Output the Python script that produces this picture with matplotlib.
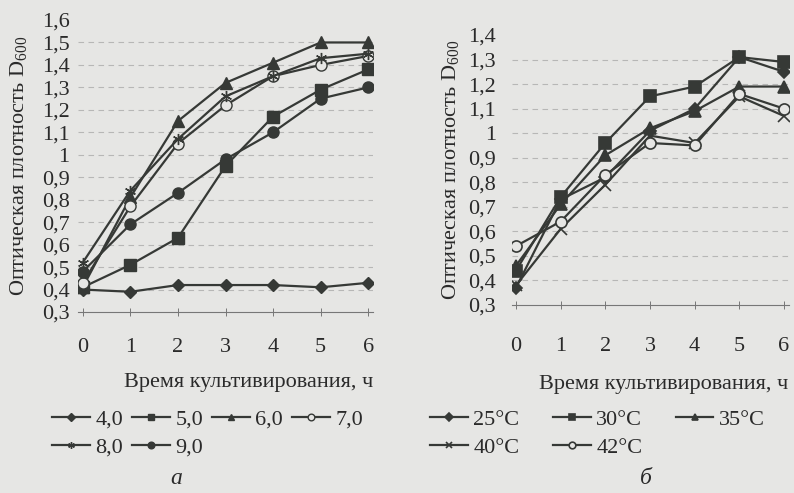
import matplotlib
matplotlib.use("Agg")
import matplotlib.pyplot as plt

plt.rcParams['font.family'] = ['Liberation Serif', 'DejaVu Serif']
plt.rcParams['mathtext.fontset'] = 'custom'
plt.rcParams['mathtext.rm'] = 'Liberation Serif'

hours = [0, 1, 2, 3, 4, 5, 6]

# panel a: pH of the medium
ph_labels = ["4,0", "5,0", "6,0", "7,0", "8,0", "9,0"]
ph_40 = [0.40, 0.39, 0.42, 0.42, 0.42, 0.41, 0.43]
ph_50 = [0.41, 0.51, 0.63, 0.95, 1.17, 1.29, 1.38]
ph_60 = [0.41, 0.81, 1.15, 1.32, 1.41, 1.50, 1.50]
ph_70 = [0.43, 0.77, 1.05, 1.22, 1.35, 1.40, 1.44]
ph_80 = [0.52, 0.84, 1.07, 1.26, 1.35, 1.43, 1.45]
ph_90 = [0.48, 0.69, 0.83, 0.98, 1.10, 1.25, 1.30]
ph_ticks = [0.3, 0.4, 0.5, 0.6, 0.7, 0.8, 0.9, 1.0, 1.1, 1.2, 1.3, 1.4, 1.5, 1.6]

# panel b: temperature
t_labels = ["25°C", "30°C", "35°C", "40°C", "42°C"]
t_25 = [0.37, 0.73, 0.82, 1.01, 1.10, 1.31, 1.25]
t_30 = [0.44, 0.74, 0.96, 1.15, 1.19, 1.31, 1.29]
t_35 = [0.46, 0.71, 0.91, 1.02, 1.09, 1.19, 1.19]
t_40 = [0.38, 0.61, 0.79, 0.99, 0.96, 1.15, 1.07]
t_42 = [0.54, 0.64, 0.83, 0.96, 0.95, 1.16, 1.10]
t_ticks = [0.3, 0.4, 0.5, 0.6, 0.7, 0.8, 0.9, 1.0, 1.1, 1.2, 1.3, 1.4]

bg = '#e6e6e4'
ink = '#363936'
txt = '#2a2a2a'
W, H = 794, 493
asterisk = (6, 2, 0)


def px_axes(fig, left, right, top, bottom):
    return fig.add_axes([left / W, 1 - bottom / H, (right - left) / W, (bottom - top) / H])


def fmt(v):
    s = ("%.1f" % v).replace(".", ",")
    return "1" if s == "1,0" else s


def style(ax, ticks, ylabel_pad, xpad, xlabelpad):
    ax.set_facecolor('none')
    ax.set_xlim(-0.1, 6.1)
    ax.set_ylim(ticks[0], ticks[-1])
    for s in ['left', 'right', 'top']:
        ax.spines[s].set_visible(False)
    ax.spines['bottom'].set_color('#777777')
    ax.spines['bottom'].set_linewidth(0.8)
    ax.set_yticks(ticks)
    ax.set_yticklabels([fmt(v) for v in ticks])
    ax.set_xticks(hours)
    ax.tick_params(axis='y', length=0, pad=ylabel_pad, labelsize=16, colors=txt)
    ax.tick_params(axis='x', direction='inout', length=6, width=0.7, color='#777777',
                   pad=xpad, labelsize=16, labelcolor=txt)
    for v in ticks[1:-1]:
        ax.axhline(v, color='#8a8a8a', lw=0.8, ls=(0, (5, 4)), alpha=0.5, zorder=0)
    ax.set_xlabel("Время культивирования, ч", loc='right', fontsize=16, color=txt,
                  labelpad=xlabelpad)
    ax.set_ylabel("Оптическая плотность D$_{600}$", fontsize=16, color=txt)


def row_order(handles, labels, order):
    return [handles[i] for i in order], [labels[i] for i in order]


fig = plt.figure(figsize=(7.94, 4.93), dpi=100)
fig.patch.set_facecolor(bg)

# ---- panel a
ax1 = px_axes(fig, 78, 373, 20, 312)
style(ax1, ph_ticks, 6, 16, 11)
ax1.yaxis.set_label_coords(-48 / 295, 0.5)
series_a = [ph_40, ph_50, ph_60, ph_70, ph_80, ph_90]
marks_a = ['D', 's', '^', 'o', asterisk, 'o']
for vals, m, lab in zip(series_a, marks_a, ph_labels):
    face = bg if lab == "7,0" else ink
    ax1.plot(hours, vals, color=ink, lw=1.6, marker=m, ms=8 if m != 'D' else 6.5,
             mfc=face, mec=ink, mew=1.0, label=lab)
h, l = row_order(*ax1.get_legend_handles_labels(), [0, 4, 1, 5, 2, 3])
fig.legend(h, l, loc='upper left',
           bbox_to_anchor=(41 / W, 1 - 398 / H), ncol=4, frameon=False,
           fontsize=16, markerscale=0.6, handlelength=1.7, handletextpad=0.25,
           columnspacing=0.4, labelspacing=0.35, borderpad=0, labelcolor=txt)
fig.text(176 / W, 1 - 478 / H, "а", fontsize=17, style='italic', color=txt,
         ha='center', va='center')

# ---- panel b
ax2 = px_axes(fig, 511.5, 788.5, 35, 305)
style(ax2, t_ticks, 11, 20, 14)
ax2.yaxis.set_label_coords(-50 / 277, 0.5)
series_b = [t_25, t_30, t_35, t_40, t_42]
marks_b = ['D', 's', '^', 'x', 'o']
for vals, m, lab in zip(series_b, marks_b, t_labels):
    face = bg if lab == "42°C" else ink
    ax2.plot(hours, vals, color=ink, lw=1.6, marker=m, ms=8 if m != 'D' else 6.5,
             mfc=face, mec=ink, mew=1.2, label=lab)
h, l = row_order(*ax2.get_legend_handles_labels(), [0, 3, 1, 4, 2])
fig.legend(h, l, loc='upper left',
           bbox_to_anchor=(419 / W, 1 - 398 / H), ncol=3, frameon=False,
           fontsize=16, markerscale=0.6, handlelength=1.7, handletextpad=0.25,
           columnspacing=1.5, labelspacing=0.35, borderpad=0, labelcolor=txt)
fig.text(646 / W, 1 - 478 / H, "б", fontsize=17, style='italic', color=txt,
         ha='center', va='center')

fig.savefig("out.png", dpi=100, facecolor=bg)
